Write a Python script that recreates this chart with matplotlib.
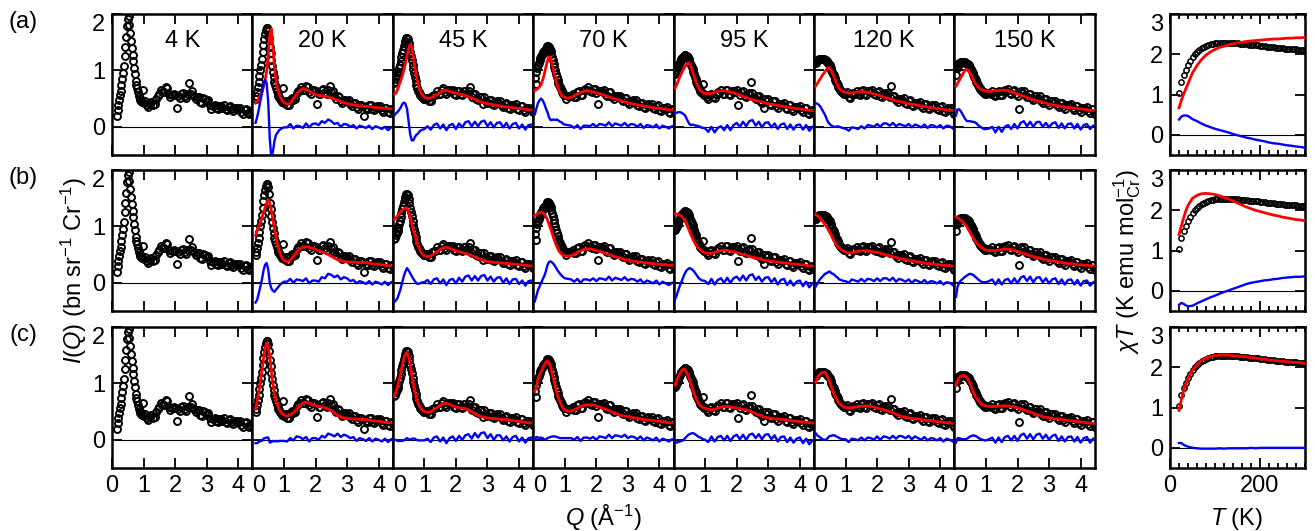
import numpy as np
import matplotlib
matplotlib.use('Agg')
import matplotlib.pyplot as plt
from matplotlib.ticker import MultipleLocator

plt.rcParams['font.family'] = ['Liberation Sans', 'DejaVu Sans']
plt.rcParams['mathtext.fontset'] = 'custom'
plt.rcParams['mathtext.rm'] = 'Liberation Sans'
plt.rcParams['mathtext.it'] = 'Liberation Sans:italic'

nan = float('nan')

temps = ['4 K', '20 K', '45 K', '70 K', '95 K', '120 K', '150 K']

# Q points of the measured data (1/Angstrom)
qd = [0.050, 0.075, 0.100, 0.125, 0.150, 0.175, 0.200, 0.225, 0.250, 0.275,
      0.300, 0.325, 0.350, 0.375, 0.400, 0.425, 0.450, 0.475, 0.500, 0.525,
      0.550, 0.575, 0.600, 0.625, 0.650, 0.675, 0.700, 0.725, 0.750, 0.775,
      0.800, 0.825, 0.850, 0.875, 0.900, 0.925, 0.950, 0.975, 1.000,
      1.05, 1.10, 1.15, 1.20, 1.25, 1.30, 1.35, 1.40, 1.45, 1.50,
      1.55, 1.60, 1.65, 1.70, 1.75, 1.80, 1.85, 1.90, 1.95, 2.00,
      2.05, 2.10, 2.15, 2.20, 2.25, 2.30, 2.35, 2.40, 2.45, 2.50,
      2.55, 2.60, 2.65, 2.70, 2.75, 2.80, 2.85, 2.90, 2.95, 3.00,
      3.05, 3.10, 3.15, 3.20, 3.25, 3.30, 3.35, 3.40, 3.45, 3.50,
      3.55, 3.60, 3.65, 3.70, 3.75, 3.80, 3.85, 3.90, 3.95, 4.00,
      4.05, 4.10, 4.15, 4.20, 4.25, 4.30, 4.35, 4.40, 4.45]

# measured I(Q)
data_4 = [nan, nan, nan, nan, 0.20, 0.30, 0.38, 0.47, 0.56, 0.64,
          0.74, 0.84, 0.95, 1.08, 1.25, 1.42, 1.60, 1.78, 1.92, 1.96,
          1.80, 1.66, 1.52, 1.40, 1.28, 1.16, 1.05, 0.93, 0.82, 0.74,
          0.68, 0.61, 0.55, 0.51, 0.48, 0.45, 0.44, 0.66, 0.42,
          0.46, 0.38, 0.35, 0.41, 0.44, 0.39, 0.40, 0.50, 0.55, 0.58,
          0.65, 0.61, 0.62, 0.71, 0.69, 0.58, 0.52, 0.57, 0.59, 0.57,
          0.33, 0.54, 0.51, 0.58, 0.60, 0.54, 0.51, 0.58, 0.78, 0.59,
          0.63, 0.55, 0.49, 0.53, 0.52, 0.44, 0.43, 0.51, 0.50, 0.46,
          0.47, 0.38, 0.32, 0.36, 0.39, 0.34, 0.31, 0.37, 0.37, 0.34,
          0.38, 0.32, 0.29, 0.35, 0.37, 0.32, 0.28, 0.33, 0.33, 0.31,
          0.34, 0.27, 0.23, 0.29, 0.31, 0.25, 0.23, 0.27, 0.30]
data_20 = [nan, nan, 0.49, 0.55, 0.62, 0.70, 0.80, 0.90, 1.00, 1.10,
           1.20, 1.32, 1.45, 1.56, 1.65, 1.72, 1.76, 1.76, 1.70, 1.57,
           1.42, 1.30, 1.18, 1.08, 0.98, 0.88, 0.80, 0.74, 0.68, 0.63,
           0.58, 0.55, 0.52, 0.49, 0.47, 0.45, 0.44, 0.68, 0.42,
           0.46, 0.39, 0.38, 0.47, 0.51, 0.47, 0.49, 0.60, 0.64, 0.65,
           0.71, 0.66, 0.65, 0.72, 0.71, 0.62, 0.59, 0.65, 0.65, 0.63,
           0.40, 0.59, 0.58, 0.65, 0.67, 0.61, 0.59, 0.66, 0.72, 0.61,
           0.63, 0.54, 0.49, 0.54, 0.53, 0.45, 0.42, 0.48, 0.48, 0.45,
           0.48, 0.40, 0.36, 0.42, 0.42, 0.35, 0.32, 0.39, 0.39, 0.37,
           0.20, 0.34, 0.31, 0.38, 0.39, 0.31, 0.29, 0.35, 0.36, 0.33,
           0.37, 0.29, 0.27, 0.33, 0.34, 0.26, 0.24, 0.31, 0.32]
data_45 = [0.78, 0.80, 0.84, 0.88, 0.92, 0.98, 1.04, 1.10, 1.16, 1.23,
           1.30, 1.37, 1.43, 1.49, 1.53, 1.57, 1.58, 1.55, 1.48, 1.41,
           1.33, 1.26, 1.18, 1.10, 1.02, 0.95, 0.88, 0.81, 0.74, 0.69,
           0.64, 0.61, 0.58, 0.56, 0.54, 0.52, 0.51, 0.50, 0.49,
           0.51, 0.51, 0.46, 0.46, 0.54, 0.57, 0.57, 0.63, 0.58, 0.58,
           0.66, 0.68, 0.61, 0.59, 0.66, 0.66, 0.63, 0.66, 0.58, 0.56,
           0.63, 0.64, 0.58, 0.56, 0.63, 0.63, 0.60, 0.63, 0.70, 0.52,
           0.58, 0.58, 0.50, 0.47, 0.53, 0.53, 0.40, 0.53, 0.45, 0.42,
           0.48, 0.48, 0.41, 0.38, 0.44, 0.45, 0.42, 0.45, 0.38, 0.35,
           0.41, 0.42, 0.34, 0.32, 0.38, 0.39, 0.36, 0.40, 0.32, 0.30,
           0.36, 0.36, 0.29, 0.26, 0.33, 0.33, 0.31, 0.34, 0.27]
data_70 = [0.86, 0.76, 0.98, 1.04, 1.10, 1.14, 1.18, 1.22, 1.25, 1.28,
           1.30, 1.32, 1.34, 1.36, 1.38, 1.41, 1.43, 1.43, 1.41, 1.38,
           1.34, 1.29, 1.24, 1.18, 1.12, 1.06, 1.00, 0.94, 0.88, 0.83,
           0.78, 0.74, 0.70, 0.67, 0.64, 0.61, 0.59, 0.57, 0.56,
           0.49, 0.54, 0.55, 0.54, 0.59, 0.53, 0.52, 0.61, 0.63, 0.57,
           0.57, 0.65, 0.67, 0.66, 0.71, 0.64, 0.61, 0.67, 0.67, 0.60,
           0.40, 0.64, 0.64, 0.61, 0.65, 0.57, 0.54, 0.61, 0.61, 0.52,
           0.49, 0.55, 0.55, 0.52, 0.55, 0.48, 0.45, 0.51, 0.51, 0.44,
           0.41, 0.46, 0.47, 0.44, 0.47, 0.39, 0.37, 0.43, 0.43, 0.35,
           0.33, 0.39, 0.40, 0.37, 0.41, 0.33, 0.31, 0.37, 0.38, 0.30,
           0.28, 0.34, 0.34, 0.31, 0.35, 0.27, 0.24, 0.31, 0.32]
data_95 = [0.93, 0.97, 1.00, 1.04, 1.08, 1.12, 1.15, 1.18, 1.20, 1.22,
           1.24, 1.26, 1.27, 1.27, 1.26, 1.25, 1.23, 1.21, 1.18, 1.14,
           1.10, 1.06, 1.02, 0.97, 0.93, 0.88, 0.84, 0.80, 0.76, 0.72,
           0.69, 0.66, 0.64, 0.62, 0.60, 0.75, 0.58, 0.57, 0.56,
           0.53, 0.50, 0.57, 0.59, 0.52, 0.51, 0.59, 0.61, 0.60, 0.65,
           0.59, 0.58, 0.65, 0.66, 0.59, 0.56, 0.63, 0.63, 0.61, 0.65,
           0.38, 0.56, 0.62, 0.63, 0.55, 0.53, 0.59, 0.60, 0.79, 0.60,
           0.52, 0.49, 0.55, 0.54, 0.46, 0.43, 0.34, 0.49, 0.46, 0.49,
           0.41, 0.39, 0.45, 0.45, 0.37, 0.34, 0.41, 0.41, 0.38, 0.42,
           0.34, 0.31, 0.38, 0.38, 0.31, 0.28, 0.35, 0.35, 0.33, 0.36,
           0.29, 0.26, 0.33, 0.33, 0.25, 0.22, 0.28, 0.29, 0.26]
data_120 = [1.14, 1.16, 1.17, 1.19, 1.20, 1.21, 1.21, 1.21, 1.21, 1.21,
            1.20, 1.20, 1.19, 1.18, 1.16, 1.15, 1.13, 1.11, 1.09, 1.05,
            1.01, 0.98, 0.94, 0.91, 0.87, 0.83, 0.80, 0.77, 0.74, 0.71,
            0.68, 0.66, 0.64, 0.62, 0.61, 0.60, 0.59, 0.58, 0.58,
            0.61, 0.53, 0.51, 0.59, 0.60, 0.59, 0.64, 0.58, 0.57, 0.64,
            0.66, 0.59, 0.57, 0.64, 0.64, 0.62, 0.65, 0.58, 0.56, 0.62,
            0.63, 0.55, 0.53, 0.59, 0.60, 0.57, 0.60, 0.52, 0.73, 0.55,
            0.55, 0.47, 0.44, 0.50, 0.50, 0.47, 0.51, 0.43, 0.40, 0.46,
            0.47, 0.39, 0.36, 0.43, 0.43, 0.40, 0.44, 0.36, 0.34, 0.40,
            0.41, 0.33, 0.31, 0.37, 0.38, 0.35, 0.39, 0.31, 0.29, 0.35,
            0.36, 0.28, 0.26, 0.32, 0.33, 0.30, 0.33, 0.26, 0.23]
data_150 = [0.92, 1.04, 1.08, 1.11, 1.13, 1.14, 1.15, 1.15, 1.15, 1.15,
            1.15, 1.15, 1.14, 1.13, 1.12, 1.11, 1.09, 1.07, 1.05, 1.02,
            0.99, 0.96, 0.93, 0.89, 0.86, 0.83, 0.80, 0.77, 0.74, 0.71,
            0.69, 0.67, 0.65, 0.63, 0.62, 0.61, 0.60, 0.59, 0.59,
            0.60, 0.60, 0.58, 0.63, 0.56, 0.54, 0.62, 0.64, 0.57, 0.56,
            0.63, 0.65, 0.63, 0.67, 0.60, 0.58, 0.64, 0.65, 0.58, 0.55,
            0.32, 0.63, 0.60, 0.64, 0.56, 0.53, 0.59, 0.59, 0.51, 0.48,
            0.54, 0.54, 0.51, 0.54, 0.46, 0.43, 0.49, 0.49, 0.42, 0.39,
            0.45, 0.45, 0.43, 0.46, 0.38, 0.35, 0.42, 0.42, 0.35, 0.32,
            0.39, 0.39, 0.37, 0.40, 0.33, 0.30, 0.37, 0.37, 0.30, 0.27,
            0.34, 0.34, 0.32, 0.35, 0.28, 0.25, 0.31, 0.31, 0.22]

# Q points of the model curves
q = [0.05, 0.10, 0.15, 0.20, 0.25, 0.30, 0.35, 0.40, 0.45, 0.50,
     0.55, 0.60, 0.65, 0.70, 0.75, 0.80, 0.85, 0.90, 0.95, 1.00,
     1.1, 1.2, 1.3, 1.4, 1.5, 1.6, 1.7, 1.8, 1.9, 2.0,
     2.1, 2.2, 2.3, 2.4, 2.5, 2.6, 2.7, 2.8, 2.9, 3.0,
     3.1, 3.2, 3.3, 3.4, 3.5, 3.6, 3.7, 3.8, 3.9, 4.0,
     4.1, 4.2, 4.3, 4.4]

# fits, model (a)
fit_a_20 = [nan, 0.42, 0.45, 0.50, 0.55, 0.61, 0.70, 0.82, 0.98, 1.25,
            1.62, 1.74, 1.42, 1.05, 0.82, 0.68, 0.58, 0.51, 0.46, 0.43,
            0.40, 0.42, 0.50, 0.58, 0.64, 0.68, 0.66, 0.63, 0.60, 0.57,
            0.56, 0.55, 0.54, 0.53, 0.51, 0.49, 0.47, 0.45, 0.43, 0.41,
            0.40, 0.39, 0.38, 0.37, 0.37, 0.36, 0.36, 0.35, 0.34, 0.34,
            0.33, 0.33, 0.32, 0.32]
fit_a_45 = [0.58, 0.60, 0.66, 0.74, 0.82, 0.90, 1.00, 1.12, 1.26, 1.38,
            1.46, 1.42, 1.26, 1.06, 0.88, 0.76, 0.66, 0.60, 0.56, 0.53,
            0.50, 0.51, 0.54, 0.57, 0.61, 0.64, 0.65, 0.63, 0.61, 0.60,
            0.58, 0.57, 0.55, 0.53, 0.51, 0.49, 0.46, 0.44, 0.42, 0.41,
            0.40, 0.39, 0.38, 0.37, 0.36, 0.35, 0.35, 0.34, 0.33, 0.33,
            0.32, 0.31, 0.30, 0.30]
fit_a_70 = [0.64, 0.66, 0.68, 0.71, 0.75, 0.83, 0.93, 1.05, 1.17, 1.24,
            1.22, 1.12, 0.99, 0.88, 0.75, 0.67, 0.61, 0.56, 0.54, 0.52,
            0.51, 0.52, 0.55, 0.58, 0.61, 0.63, 0.64, 0.63, 0.62, 0.60,
            0.59, 0.57, 0.55, 0.53, 0.51, 0.49, 0.48, 0.46, 0.44, 0.43,
            0.41, 0.40, 0.39, 0.38, 0.37, 0.36, 0.35, 0.34, 0.33, 0.33,
            0.32, 0.31, 0.30, 0.30]
fit_a_95 = [0.69, 0.75, 0.82, 0.89, 0.95, 1.01, 1.06, 1.10, 1.13, 1.13,
            1.07, 0.98, 0.90, 0.82, 0.74, 0.68, 0.64, 0.62, 0.60, 0.59,
            0.59, 0.59, 0.61, 0.63, 0.64, 0.64, 0.63, 0.62, 0.60, 0.58,
            0.56, 0.54, 0.52, 0.50, 0.48, 0.47, 0.45, 0.44, 0.42, 0.41,
            0.40, 0.39, 0.38, 0.37, 0.36, 0.35, 0.34, 0.33, 0.32, 0.32,
            0.31, 0.30, 0.29, 0.29]
fit_a_120 = [0.72, 0.76, 0.81, 0.85, 0.90, 0.94, 0.98, 1.02, 1.05, 1.04,
             0.99, 0.93, 0.87, 0.80, 0.73, 0.68, 0.65, 0.63, 0.62, 0.61,
             0.60, 0.60, 0.61, 0.62, 0.63, 0.62, 0.61, 0.60, 0.58, 0.57,
             0.55, 0.53, 0.51, 0.50, 0.48, 0.46, 0.45, 0.44, 0.42, 0.41,
             0.40, 0.39, 0.38, 0.37, 0.36, 0.35, 0.34, 0.33, 0.32, 0.32,
             0.31, 0.30, 0.29, 0.29]
fit_a_150 = [0.72, 0.77, 0.82, 0.87, 0.92, 0.97, 1.01, 1.02, 0.99, 0.95,
             0.90, 0.84, 0.78, 0.74, 0.71, 0.68, 0.66, 0.65, 0.64, 0.63,
             0.63, 0.63, 0.64, 0.64, 0.65, 0.65, 0.64, 0.62, 0.60, 0.58,
             0.56, 0.54, 0.52, 0.50, 0.48, 0.46, 0.45, 0.43, 0.42, 0.40,
             0.39, 0.38, 0.37, 0.36, 0.35, 0.34, 0.34, 0.33, 0.32, 0.32,
             0.31, 0.30, 0.29, 0.29]

# fits, model (b)
fit_b_20 = [nan, 0.84, 0.92, 0.99, 1.07, 1.15, 1.24, 1.33, 1.41, 1.46,
            1.42, 1.28, 1.12, 0.96, 0.80, 0.67, 0.57, 0.49, 0.44, 0.40,
            0.37, 0.40, 0.47, 0.54, 0.60, 0.63, 0.64, 0.63, 0.61, 0.59,
            0.57, 0.55, 0.53, 0.50, 0.47, 0.44, 0.41, 0.39, 0.38, 0.37,
            0.37, 0.37, 0.36, 0.36, 0.36, 0.36, 0.35, 0.34, 0.33, 0.33,
            0.32, 0.31, 0.30, 0.30]
fit_b_45 = [1.12, 1.15, 1.19, 1.23, 1.26, 1.29, 1.31, 1.33, 1.32, 1.26,
            1.16, 1.06, 0.95, 0.85, 0.75, 0.66, 0.59, 0.54, 0.50, 0.48,
            0.46, 0.48, 0.51, 0.55, 0.59, 0.62, 0.63, 0.61, 0.59, 0.57,
            0.55, 0.54, 0.52, 0.50, 0.48, 0.46, 0.43, 0.41, 0.39, 0.38,
            0.37, 0.36, 0.36, 0.35, 0.35, 0.34, 0.34, 0.33, 0.33, 0.32,
            0.32, 0.31, 0.30, 0.30]
fit_b_70 = [1.19, 1.21, 1.23, 1.25, 1.25, 1.24, 1.22, 1.18, 1.12, 1.04,
            0.96, 0.88, 0.79, 0.71, 0.64, 0.58, 0.54, 0.51, 0.49, 0.48,
            0.47, 0.48, 0.51, 0.54, 0.57, 0.59, 0.60, 0.60, 0.59, 0.57,
            0.56, 0.54, 0.52, 0.50, 0.48, 0.46, 0.45, 0.43, 0.41, 0.40,
            0.39, 0.38, 0.37, 0.37, 0.36, 0.35, 0.35, 0.34, 0.33, 0.33,
            0.32, 0.32, 0.31, 0.31]
fit_b_95 = [1.22, 1.22, 1.21, 1.20, 1.18, 1.15, 1.11, 1.05, 0.99, 0.92,
            0.85, 0.79, 0.73, 0.68, 0.64, 0.61, 0.58, 0.56, 0.54, 0.53,
            0.52, 0.52, 0.54, 0.56, 0.57, 0.58, 0.57, 0.56, 0.55, 0.54,
            0.52, 0.50, 0.49, 0.47, 0.45, 0.44, 0.43, 0.41, 0.40, 0.39,
            0.38, 0.37, 0.37, 0.36, 0.35, 0.35, 0.34, 0.33, 0.33, 0.32,
            0.32, 0.31, 0.30, 0.30]
fit_b_120 = [1.21, 1.19, 1.17, 1.14, 1.11, 1.07, 1.03, 0.99, 0.94, 0.89,
             0.84, 0.78, 0.73, 0.69, 0.65, 0.62, 0.59, 0.57, 0.56, 0.55,
             0.53, 0.53, 0.55, 0.56, 0.57, 0.57, 0.57, 0.56, 0.55, 0.54,
             0.52, 0.51, 0.49, 0.48, 0.46, 0.45, 0.43, 0.42, 0.41, 0.40,
             0.39, 0.38, 0.37, 0.36, 0.35, 0.34, 0.34, 0.33, 0.32, 0.32,
             0.31, 0.31, 0.30, 0.30]
fit_b_150 = [1.17, 1.15, 1.13, 1.11, 1.09, 1.06, 1.03, 0.99, 0.94, 0.89,
             0.84, 0.79, 0.75, 0.71, 0.68, 0.65, 0.63, 0.61, 0.59, 0.58,
             0.57, 0.57, 0.57, 0.58, 0.59, 0.60, 0.60, 0.59, 0.57, 0.56,
             0.54, 0.52, 0.50, 0.48, 0.47, 0.45, 0.44, 0.42, 0.41, 0.40,
             0.39, 0.38, 0.37, 0.36, 0.35, 0.34, 0.34, 0.33, 0.32, 0.32,
             0.31, 0.31, 0.30, 0.30]

# fits, model (c)
fit_c_20 = [nan, 0.55, 0.68, 0.84, 1.02, 1.22, 1.43, 1.62, 1.72, 1.66,
            1.47, 1.22, 1.00, 0.83, 0.70, 0.61, 0.54, 0.49, 0.46, 0.44,
            0.42, 0.44, 0.48, 0.54, 0.60, 0.65, 0.67, 0.65, 0.62, 0.60,
            0.59, 0.58, 0.57, 0.55, 0.52, 0.48, 0.43, 0.40, 0.39, 0.38,
            0.37, 0.37, 0.37, 0.36, 0.36, 0.36, 0.35, 0.34, 0.33, 0.33,
            0.32, 0.31, 0.30, 0.30]
fit_c_45 = [0.78, 0.84, 0.94, 1.06, 1.18, 1.32, 1.44, 1.52, 1.55, 1.47,
            1.33, 1.16, 1.00, 0.86, 0.74, 0.65, 0.59, 0.55, 0.52, 0.50,
            0.49, 0.50, 0.53, 0.57, 0.61, 0.64, 0.65, 0.63, 0.60, 0.58,
            0.57, 0.56, 0.55, 0.53, 0.50, 0.46, 0.43, 0.41, 0.40, 0.39,
            0.38, 0.38, 0.37, 0.37, 0.36, 0.36, 0.35, 0.34, 0.33, 0.33,
            0.32, 0.31, 0.30, 0.30]
fit_c_70 = [0.86, 0.93, 1.06, 1.15, 1.21, 1.27, 1.33, 1.38, 1.40, 1.37,
            1.29, 1.18, 1.06, 0.94, 0.83, 0.74, 0.67, 0.61, 0.56, 0.53,
            0.51, 0.51, 0.53, 0.56, 0.59, 0.61, 0.62, 0.62, 0.62, 0.60,
            0.58, 0.56, 0.54, 0.52, 0.49, 0.47, 0.45, 0.43, 0.42, 0.41,
            0.40, 0.39, 0.38, 0.37, 0.36, 0.35, 0.35, 0.34, 0.33, 0.33,
            0.32, 0.31, 0.30, 0.30]
fit_c_95 = [0.97, 1.05, 1.12, 1.18, 1.22, 1.25, 1.25, 1.21, 1.15, 1.08,
            0.99, 0.90, 0.82, 0.75, 0.69, 0.64, 0.60, 0.58, 0.57, 0.56,
            0.54, 0.53, 0.54, 0.56, 0.58, 0.59, 0.59, 0.58, 0.57, 0.56,
            0.55, 0.54, 0.53, 0.51, 0.49, 0.46, 0.44, 0.42, 0.40, 0.39,
            0.38, 0.37, 0.37, 0.36, 0.36, 0.35, 0.34, 0.33, 0.33, 0.32,
            0.32, 0.31, 0.30, 0.30]
fit_c_120 = [1.02, 1.09, 1.14, 1.17, 1.19, 1.20, 1.19, 1.15, 1.09, 1.02,
             0.94, 0.86, 0.79, 0.74, 0.69, 0.65, 0.62, 0.60, 0.58, 0.57,
             0.57, 0.57, 0.58, 0.59, 0.60, 0.60, 0.60, 0.59, 0.58, 0.56,
             0.55, 0.53, 0.52, 0.50, 0.48, 0.45, 0.43, 0.41, 0.40, 0.39,
             0.38, 0.37, 0.37, 0.36, 0.35, 0.34, 0.34, 0.33, 0.32, 0.32,
             0.31, 0.30, 0.30, 0.29]
fit_c_150 = [0.97, 1.05, 1.10, 1.13, 1.14, 1.14, 1.13, 1.10, 1.05, 0.99,
             0.92, 0.85, 0.79, 0.74, 0.70, 0.67, 0.64, 0.62, 0.61, 0.60,
             0.59, 0.59, 0.59, 0.60, 0.60, 0.60, 0.60, 0.59, 0.58, 0.57,
             0.55, 0.53, 0.51, 0.49, 0.47, 0.45, 0.43, 0.41, 0.40, 0.39,
             0.38, 0.37, 0.37, 0.36, 0.35, 0.34, 0.34, 0.33, 0.32, 0.32,
             0.31, 0.30, 0.30, 0.29]

# susceptibility chi*T vs T (K)
t_data = [20, 25, 30, 35, 40, 45, 50, 55, 60, 65, 70, 75, 80, 85, 90, 95,
          100, 105, 110, 115, 120, 125, 130, 135, 140, 145, 150, 155, 160,
          165, 170, 175, 180, 185, 190, 195, 200, 205, 210, 215, 220, 225,
          230, 235, 240, 245, 250, 255, 260, 265, 270, 275, 280, 285, 290,
          295, 300]
chi_data = [1.05, 1.30, 1.48, 1.62, 1.74, 1.84, 1.93, 2.00, 2.06, 2.11, 2.15,
            2.18, 2.21, 2.23, 2.25, 2.26, 2.27, 2.28, 2.29, 2.29, 2.29, 2.29,
            2.29, 2.28, 2.28, 2.27, 2.27, 2.26, 2.26, 2.25, 2.25, 2.24, 2.24,
            2.23, 2.22, 2.22, 2.21, 2.20, 2.20, 2.19, 2.18, 2.18, 2.17, 2.16,
            2.16, 2.15, 2.15, 2.14, 2.14, 2.13, 2.13, 2.12, 2.12, 2.11, 2.11,
            2.10, 2.10]
t_chi = [20, 25, 30, 35, 40, 50, 60, 70, 80, 90, 100, 110, 120, 130, 140,
         150, 160, 170, 180, 190, 200, 210, 220, 230, 240, 250, 260, 270,
         280, 290, 300]
chi_fit_a = [0.67, 0.85, 1.00, 1.14, 1.27, 1.54, 1.72, 1.87, 1.98, 2.06, 2.12,
             2.17, 2.20, 2.23, 2.26, 2.28, 2.30, 2.32, 2.33, 2.34, 2.35, 2.36,
             2.37, 2.38, 2.38, 2.39, 2.40, 2.40, 2.41, 2.41, 2.42]
chi_fit_b = [1.40, 1.60, 1.80, 1.98, 2.12, 2.30, 2.37, 2.41, 2.42, 2.41, 2.39,
             2.36, 2.32, 2.28, 2.23, 2.18, 2.13, 2.08, 2.04, 2.00, 1.97, 1.94,
             1.91, 1.88, 1.86, 1.83, 1.81, 1.79, 1.77, 1.76, 1.74]
chi_fit_c = [0.93, 1.18, 1.40, 1.57, 1.71, 1.93, 2.07, 2.17, 2.23, 2.27, 2.29,
             2.30, 2.31, 2.30, 2.29, 2.28, 2.27, 2.26, 2.24, 2.23, 2.21, 2.20,
             2.18, 2.17, 2.16, 2.15, 2.14, 2.13, 2.12, 2.11, 2.10]

data = [data_4, data_20, data_45, data_70, data_95, data_120, data_150]
fits = [[None, fit_a_20, fit_a_45, fit_a_70, fit_a_95, fit_a_120, fit_a_150],
        [None, fit_b_20, fit_b_45, fit_b_70, fit_b_95, fit_b_120, fit_b_150],
        [None, fit_c_20, fit_c_45, fit_c_70, fit_c_95, fit_c_120, fit_c_150]]
chi_fits = [chi_fit_a, chi_fit_b, chi_fit_c]

# residual = data - fit, taken at the Q (or T) where the fit is given
q_pos = {round(x, 3): k for k, x in enumerate(qd)}
q_idx = [q_pos[round(x, 3)] for x in q]
t_pos = {t: k for k, t in enumerate(t_data)}
t_idx = [t_pos[t] for t in t_chi]

W, H = 1315, 531
fig = plt.figure(figsize=(W / 100, H / 100), dpi=100)
fs = 17


def add_ax(left, top, w, h):
    return fig.add_axes([left / W, 1 - (top + h) / H, w / W, h / H])


def frame(ax):
    for s in ax.spines.values():
        s.set_linewidth(1.8)
    ax.tick_params(which='both', direction='in', top=True, right=True,
                   width=1.3, labelsize=fs, pad=5)
    ax.tick_params(which='major', length=7)
    ax.tick_params(which='minor', length=3.5)


row_tops = [14, 170, 327]
panel_w = 140.4

for r, top in enumerate(row_tops):
    for i in range(7):
        ax = add_ax(112 + i * panel_w, top, panel_w, 141)
        ax.axhline(0, color='k', lw=0.8, zorder=1)
        ax.plot(qd, data[i], 'o', mfc='none', mec='k', ms=5.0, mew=1.4, zorder=2)
        f = fits[r][i]
        if f is not None:
            resid = np.array(data[i])[q_idx] - np.array(f)
            ax.plot(q, f, color='red', lw=2.0, zorder=3)
            ax.plot(q, resid, color='blue', lw=1.7, zorder=3)
        ax.set_xlim(0, 4.45)
        ax.set_ylim(-0.5, 2.0)
        ax.set_xticks([0, 1, 2, 3, 4])
        ax.set_yticks([0, 1, 2])
        frame(ax)
        ax.tick_params(labelleft=(i == 0), labelbottom=(r == 2))
        if i == 0:
            ax.get_yticklabels()[-1].set_va('top')
        elif r == 2:
            ax.get_xticklabels()[0].set_ha('left')
        if r == 0:
            ax.text(0.5, 0.81, temps[i], transform=ax.transAxes,
                    ha='center', va='center', fontsize=fs)

    # chi*T panel
    ax = add_ax(1170, top, 135, 141)
    ax.axhline(0, color='k', lw=0.8, zorder=1)
    ax.plot(t_data, chi_data, 'o', mfc='none', mec='k', ms=3.8, mew=1.1, zorder=2)
    ax.plot(t_chi, chi_fits[r], color='red', lw=2.0, zorder=3)
    ax.plot(t_chi, np.array(chi_data)[t_idx] - np.array(chi_fits[r]),
            color='blue', lw=1.7, zorder=3)
    ax.set_xlim(0, 300)
    ax.set_ylim(-0.5, 2.97)
    ax.set_xticks([0, 200])
    ax.xaxis.set_minor_locator(MultipleLocator(20))
    ax.set_yticks([0, 1, 2, 3])
    frame(ax)
    ax.tick_params(labelbottom=(r == 2))
    ax.get_yticklabels()[-1].set_va('top')

for lab, top in zip(['(a)', '(b)', '(c)'], row_tops):
    fig.text(23 / W, 1 - (top + 8) / H, lab, ha='center', va='center', fontsize=fs)

fig.text(74 / W, 1 - 270 / H, r'$I$($Q$) (bn sr$^{-1}$ Cr$^{-1}$)',
         rotation=90, ha='center', va='center', fontsize=fs)
fig.text(1127 / W, 1 - 262 / H, r'$\chi T$ (K emu mol$_{\rm Cr}^{-1}$)',
         rotation=90, ha='center', va='center', fontsize=fs)
fig.text(603 / W, 1 - 518 / H, r'$Q$ (Å$^{-1}$)', ha='center', va='center', fontsize=fs)
fig.text(1237 / W, 1 - 519 / H, r'$T$ (K)', ha='center', va='center', fontsize=fs)

fig.savefig('out.png', dpi=100)
